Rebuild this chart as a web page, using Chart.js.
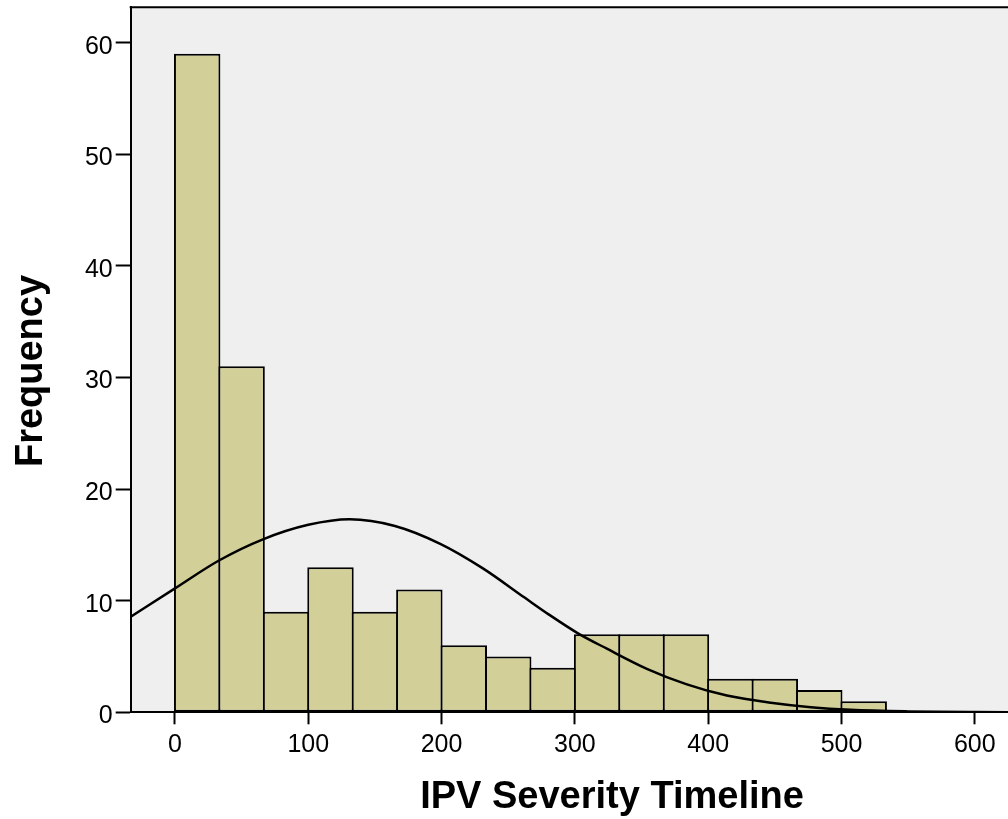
<!DOCTYPE html>
<html><head><meta charset="utf-8">
<script src="https://cdn.jsdelivr.net/npm/chart.js@4.4.0/dist/chart.umd.min.js"></script>
<style>html,body{margin:0;padding:0;background:#fff;}canvas{display:block;}</style>
</head><body>
<canvas id="c" width="1008" height="819"></canvas>
<script>
// Histogram bins (bin centres, width 33.33) and counts
const binCenters = [16.67, 50, 83.33, 116.67, 150, 183.33, 216.67, 250, 283.33, 316.67, 350, 383.33, 416.67, 450, 483.33, 516.67];
const frequencies = [59, 31, 9, 13, 9, 11, 6, 5, 4, 7, 7, 7, 3, 3, 2, 1];
// Fitted normal curve
const curveX = [-34, 0, 33, 66, 100, 131, 165, 199, 231, 262, 280, 302, 324, 354, 384, 414, 447, 477, 507, 550, 600, 650];
const curveY = [8.5, 11.1, 13.6, 15.5, 16.8, 17.3, 16.7, 15.1, 12.9, 10.3, 8.8, 7.1, 5.7, 3.9, 2.5, 1.5, 0.85, 0.45, 0.22, 0.08, 0.02, 0.005];
const xTicks = [0, 100, 200, 300, 400, 500, 600];
const yTicks = [0, 10, 20, 30, 40, 50, 60];
const xTitle = 'IPV Severity Timeline';
const yTitle = 'Frequency';

const FONT = '"Liberation Sans", Arial, Helvetica, sans-serif';

const bgPlugin = {
  id: 'bg',
  beforeDraw(chart) {
    const a = chart.chartArea, ctx = chart.ctx;
    ctx.save();
    ctx.fillStyle = '#efefef';
    ctx.fillRect(a.left, a.top, a.right - a.left, a.bottom - a.top);
    ctx.restore();
  },
  afterDraw(chart) {
    const a = chart.chartArea, ctx = chart.ctx;
    ctx.save();
    ctx.strokeStyle = '#000';
    ctx.lineWidth = 2;
    ctx.beginPath();
    ctx.moveTo(a.left - 1, a.top);
    ctx.lineTo(a.right, a.top);
    ctx.stroke();
    ctx.fillStyle = '#000';
    ctx.font = 'bold 38px ' + FONT;
    ctx.textAlign = 'center';
    ctx.textBaseline = 'alphabetic';
    ctx.fillText(xTitle, 612, 808);
    ctx.translate(42, 371);
    ctx.rotate(-Math.PI / 2);
    ctx.fillText(yTitle, 0, 0);
    ctx.restore();
  }
};

new Chart(document.getElementById('c'), {
  type: 'bar',
  data: {
    datasets: [
      {
        type: 'line',
        data: curveX.map((x, i) => ({ x: x, y: curveY[i] })),
        borderColor: '#000',
        borderWidth: 2.5,
        pointRadius: 0,
        fill: false,
        cubicInterpolationMode: 'monotone',
        order: 0
      },
      {
        type: 'bar',
        data: binCenters.map((x, i) => ({ x: x, y: frequencies[i] })),
        backgroundColor: '#d3cf98',
        borderColor: '#000',
        borderWidth: 2,
        borderSkipped: false,
        barPercentage: 1.045,
        categoryPercentage: 1,
        grouped: false,
        order: 1
      }
    ]
  },
  options: {
    responsive: false,
    devicePixelRatio: 1,
    animation: false,
    events: [],
    layout: { padding: { top: 7.3, left: 0, right: 0, bottom: 0 } },
    plugins: { legend: { display: false }, tooltip: { enabled: false }, title: { display: false } },
    scales: {
      x: {
        type: 'linear',
        offset: false,
        min: -33.2,
        max: 624.9,
        afterBuildTicks: s => { s.ticks = xTicks.map(v => ({ value: v })); },
        afterFit: s => { s.height = 819 - 712.3; s.paddingLeft = 0; s.paddingRight = 0; },
        grid: { offset: false, drawOnChartArea: false, drawTicks: true, tickLength: 12, tickWidth: 2, tickColor: '#000' },
        border: { display: true, color: '#000', width: 2 },
        ticks: { color: '#000', font: { family: FONT, size: 25 }, padding: 6, maxRotation: 0, autoSkip: false }
      },
      y: {
        type: 'linear',
        min: 0,
        max: 63.17,
        afterBuildTicks: s => { s.ticks = yTicks.map(v => ({ value: v })); },
        afterFit: s => { s.width = 130.7; s.paddingTop = 0; s.paddingBottom = 0; },
        grid: { drawOnChartArea: false, drawTicks: true, tickLength: 15, tickWidth: 2, tickColor: '#000' },
        border: { display: true, color: '#000', width: 2 },
        ticks: { color: '#000', font: { family: FONT, size: 25 }, padding: 3, labelOffset: 4, autoSkip: false }
      }
    }
  },
  plugins: [bgPlugin]
});
</script>
</body></html>
